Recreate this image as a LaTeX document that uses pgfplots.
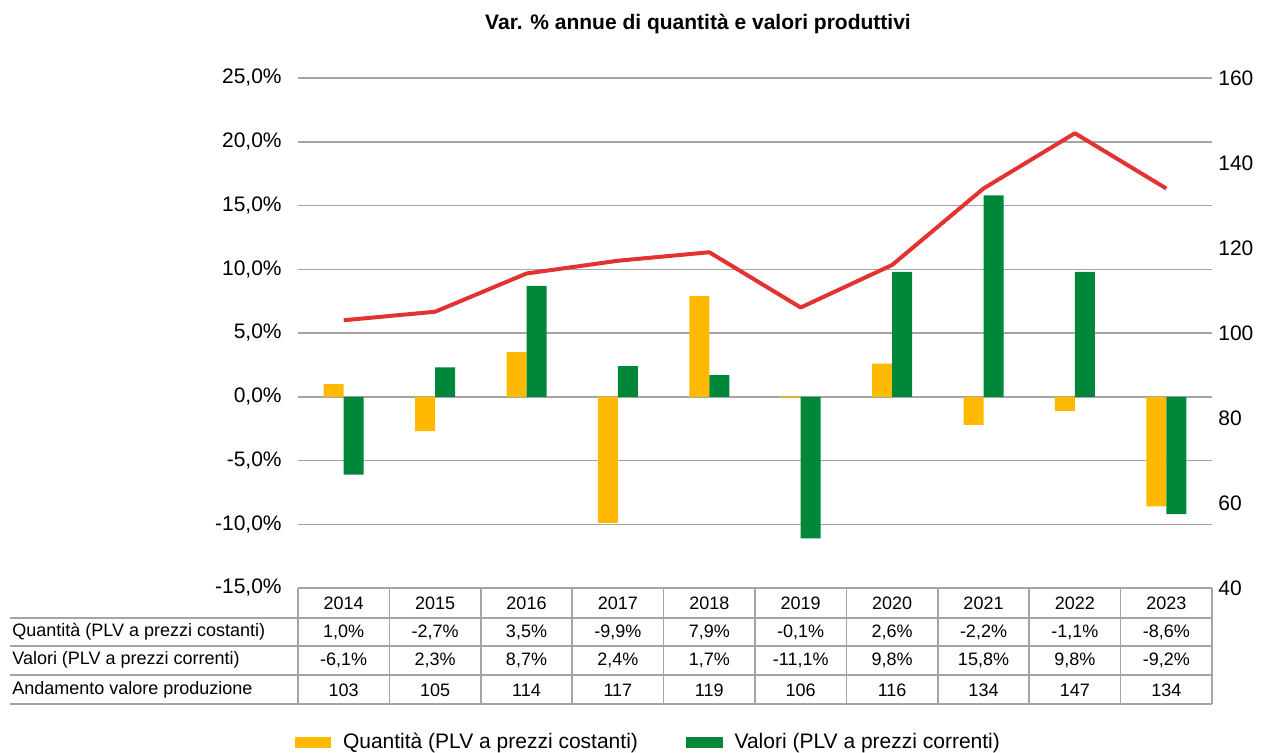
\documentclass[border=0pt]{standalone}
\usepackage{pgfplots}
\pgfplotsset{compat=1.18}
\usepackage{fontspec}
\setmainfont{Liberation Sans}
\definecolor{qyel}{RGB}{255,185,0}
\definecolor{vgreen}{RGB}{0,135,58}
\definecolor{lred}{RGB}{226,50,50}
\definecolor{gridc}{RGB}{165,165,165}
\newcommand{\fa}{\fontsize{12.6pt}{14pt}\selectfont}
\newcommand{\fb}{\fontsize{10.8pt}{12pt}\selectfont}
\begin{document}
\begin{tikzpicture}[x=0.6pt,y=0.6pt]
\path[use as bounding box] (0,0) rectangle (1261,752);
\begin{axis}[
  at={(178.8pt,98.4pt)}, anchor=south west,
  width=548.4pt, height=306pt, scale only axis,
  xmin=-0.5, xmax=9.5, ymin=-15, ymax=25,
  xtick=\empty,
  ytick={-15,-10,-5,0,5,10,15,20,25},
  yticklabels={{-15,0\%},{-10,0\%},{-5,0\%},{0,0\%},{5,0\%},{10,0\%},{15,0\%},{20,0\%},{25,0\%}},
  yticklabel style={font=\fa, inner sep=0pt, xshift=-9.6pt},
  axis line style={draw=none},
  major tick length=0pt,
  ymajorgrids, grid style={gridc, line width=0.9pt},
  ybar=0pt, bar width=12pt,
  legend columns=2,
  legend style={at={(0.384,-0.302)}, anchor=center, draw=none, font=\fa,
    /tikz/every odd column/.append style={column sep=5pt},
    /tikz/every even column/.append style={column sep=27pt}},
  legend image code/.code={\fill[#1] (0pt,-3.3pt) rectangle (22pt,3.3pt);},
]
\addplot[fill=qyel, draw=none] coordinates {(0,1.0) (1,-2.7) (2,3.5) (3,-9.9) (4,7.9) (5,-0.1) (6,2.6) (7,-2.2) (8,-1.1) (9,-8.6)};
\addlegendentry{Quantità (PLV a prezzi costanti)}
\addplot[fill=vgreen, draw=none] coordinates {(0,-6.1) (1,2.3) (2,8.7) (3,2.4) (4,1.7) (5,-11.1) (6,9.8) (7,15.8) (8,9.8) (9,-9.2)};
\addlegendentry{Valori (PLV a prezzi correnti)}
\end{axis}
\begin{axis}[
  at={(178.8pt,98.4pt)}, anchor=south west,
  width=548.4pt, height=306pt, scale only axis,
  xmin=-0.5, xmax=9.5, ymin=40, ymax=160,
  axis y line*=right, hide x axis,
  axis line style={draw=none},
  major tick length=0pt,
  ytick={40,60,80,100,120,140,160},
  yticklabels={40,60,80,100,120,140,160},
  yticklabel style={font=\fa, inner sep=0pt, xshift=3.6pt},
]
\addplot[lred, line width=2.4pt, mark=none, line join=round] coordinates {(0,103) (1,105) (2,114) (3,117) (4,119) (5,106) (6,116) (7,134) (8,147) (9,134)};
\end{axis}
% title
\node[font=\fa\bfseries] at (698,728) {Var. \% annue di quantità e valori produttivi};
% table
\draw[gridc, line width=0.9pt] (298,164) -- (1212,164);
\foreach \yy in {134,106,77,48} {\draw[gridc, line width=0.9pt] (10,\yy) -- (1212,\yy);}
\foreach \k in {0,...,10} {\draw[gridc, line width=0.9pt] (298+91.4*\k,164) -- (298+91.4*\k,48);}
\foreach \t [count=\i from 0] in {2014,2015,2016,2017,2018,2019,2020,2021,2022,2023}
  {\node[font=\fb] at (298+91.4*\i+45.7,149) {\t};}
\foreach \a/\b [count=\i from 0] in {1/0,-2/7,3/5,-9/9,7/9,-0/1,2/6,-2/2,-1/1,-8/6}
  {\node[font=\fb] at (298+91.4*\i+45.7,120) {\a,\b\%};}
\foreach \a/\b [count=\i from 0] in {-6/1,2/3,8/7,2/4,1/7,-11/1,9/8,15/8,9/8,-9/2}
  {\node[font=\fb] at (298+91.4*\i+45.7,92) {\a,\b\%};}
\foreach \t [count=\i from 0] in {103,105,114,117,119,106,116,134,147,134}
  {\node[font=\fb] at (298+91.4*\i+45.7,62) {\t};}
\node[font=\fb, anchor=west, inner sep=0pt] at (12,120) {Quantità (PLV a prezzi costanti)};
\node[font=\fb, anchor=west, inner sep=0pt] at (12,92) {Valori (PLV a prezzi correnti)};
\node[font=\fb, anchor=west, inner sep=0pt] at (12,62) {Andamento valore produzione};
\end{tikzpicture}
\end{document}
